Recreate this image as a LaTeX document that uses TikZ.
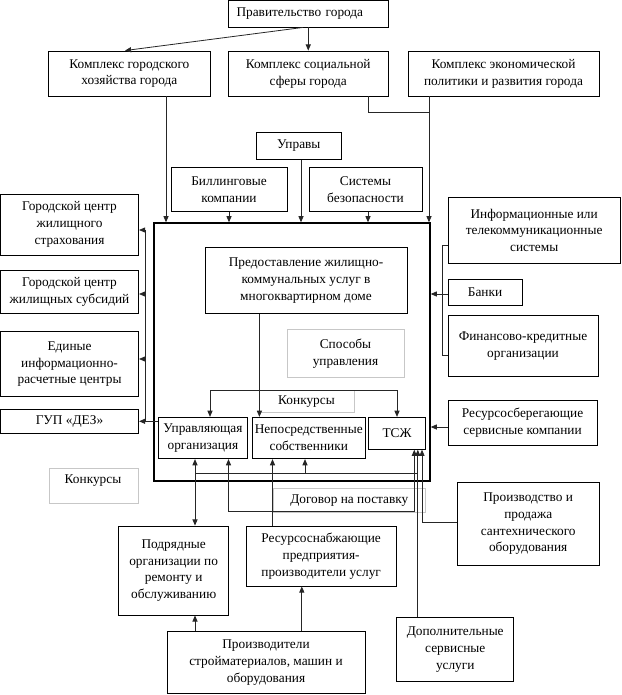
\documentclass[tikz,border=0pt]{standalone}
\usepackage{fontspec}
\setmainfont{Liberation Serif}
\usetikzlibrary{arrows.meta}
\newcommand\mybox[7]{%
  \pgfmathsetmacro\mycx{(#3+#5)/2}%
  \pgfmathsetmacro\mycy{(#4+#6)/2}%
  \pgfmathsetmacro\mywd{(#5-#3)*0.75}%
  \pgfmathsetmacro\myht{(#6-#4)*0.75}%
  \node[#1, minimum width=\mywd pt, minimum height=\myht pt] (#2) at (\mycx,\mycy) {#7};}
\tikzset{
  txt/.style={font=\fontsize{10pt}{12.6pt}\selectfont, align=center, inner sep=0pt},
  box/.style={txt, draw=black, line width=0.65pt},
  gbox/.style={txt, draw=black!22, line width=0.5pt},
  mainbox/.style={draw=black, line width=1.5pt, inner sep=0pt},
  conn/.style={draw=black!85, line width=0.6pt},
  arr/.style={conn, -{Triangle[length=4.6pt,width=3.8pt]}},
  arrb/.style={conn, {Triangle[length=4.6pt,width=3.8pt]}-{Triangle[length=4.6pt,width=3.8pt]}}
}
\begin{document}
\begin{tikzpicture}[x=0.75pt,y=-0.75pt]
\useasboundingbox (0,0) rectangle (621,695);
% gray text boxes
\mybox{gbox}{sposob}{287}{329.3}{404}{377.3}{Способы\\управления}
\mybox{gbox}{konka}{259}{390.7}{354}{412.7}{Конкурсы}
\mybox{gbox}{konkb}{49.5}{468.3}{138.6}{503.3}{}
\node[txt] (konkbt) at (93,480.7) {Конкурсы};
\mybox{gbox}{dog}{273}{488.3}{425.7}{512.7}{Договор на поставку}
% main frame
\mybox{mainbox}{main}{153.7}{223.3}{429.7}{480.7}{}
% boxes
\mybox{box, align=left, inner xsep=6pt, text width=107.6pt}{prav}{228.5}{0.5}{388}{27}{Правительство города}
\mybox{box}{gor}{48.7}{51}{210}{96}{Комплекс городского\\хозяйства города}
\mybox{box}{soc}{228.5}{51}{388}{96}{Комплекс социальной\\сферы города}
\mybox{box}{econ}{408}{51}{599}{96}{Комплекс экономической\\политики и развития города}
\mybox{box}{uprav}{256.6}{132.7}{341}{159.3}{Управы}
\mybox{box}{bill}{171}{167.3}{287}{211.7}{Биллинговые\\компании}
\mybox{box}{sist}{309}{167.3}{422}{211.7}{Системы\\безопасности}
\mybox{box}{strakh}{0.5}{194}{138.6}{255}{Городской центр\\жилищного\\страхования}
\mybox{box}{subs}{0.5}{270}{138.6}{313.3}{Городской центр\\жилищных субсидий}
\mybox{box}{erc}{0.5}{331.7}{138.6}{396.7}{Единые\\информационно-\\расчетные центры}
\mybox{box}{gup}{0.5}{409.3}{138.6}{433.3}{ГУП «ДЕЗ»}
\mybox{box}{info}{448}{197.3}{620.3}{263.3}{Информационные или\\телекоммуникационные\\системы}
\mybox{box}{banki}{448}{279.3}{522}{305}{Банки}
\mybox{box}{fin}{448}{315}{598}{376.7}{Финансово-кредитные\\организации}
\mybox{box}{resb}{448}{400.7}{597}{445}{Ресурсосберегающие\\сервисные компании}
\mybox{box}{predost}{205}{247.3}{407}{313.3}{Предоставление жилищно-\\коммунальных услуг в\\многоквартирном доме}
\mybox{box}{upr}{158.4}{417.3}{247.5}{458.7}{Управляющая\\организация}
\mybox{box}{nep}{252}{417.3}{365.5}{458.7}{Непосредственные\\собственники}
\mybox{box}{tsj}{368.3}{417.3}{425.7}{449.3}{ТСЖ}
\mybox{box}{proizv}{457.4}{482.7}{599}{565}{Производство и\\продажа\\сантехнического\\оборудования}
\mybox{box}{podr}{118.8}{526}{228.5}{615}{Подрядные\\организации по\\ремонту и\\обслуживанию}
\mybox{box}{ress}{246.3}{526}{396}{586}{Ресурсоснабжающие\\предприятия-\\производители услуг}
\mybox{box}{prstr}{167}{631.7}{365}{693.3}{Производители\\стройматериалов, машин и\\оборудования}
\mybox{box}{dop}{396.8}{617.3}{513.7}{681.7}{Дополнительные\\сервисные\\услуги}
% top connectors
\draw[arr] (prav) -- (soc);
\draw[arr] (303,0 |- prav.south) -- (125,0 |- gor.north);
\draw[arr] (166,0 |- gor.south) -- (166,0 |- main.north);
\coordinate (ej) at (429,112);
\draw[conn] (368,0 |- soc.south) |- (ej);
\draw[arr] (429,0 |- econ.south) -- (429,0 |- main.north);
\draw[arr] (uprav.south -| 301,0) -- (main.north -| 301,0);
\draw[arr] (bill.south) -- (bill.south |- main.north);
\draw[arr] (sist.south -| 368,0) -- (main.north -| 368,0);
% left bracket
\coordinate (lb) at (145,230);
\draw[arr] (gup.east -| upr.west) -- (gup.east);
\draw[conn] (gup.east -| lb) -- (lb);
\draw[arr] (lb) -- (lb -| strakh.east);
\draw[arr] (lb |- 0,294) -- (subs.east |- 0,294);
\draw[arr] (lb |- 0,359) -- (erc.east |- 0,359);
% right bracket
\coordinate (rb) at (442,245);
\draw[conn] (info.west |- rb) -- (rb) -- (rb |- 0,355) -- (fin.west |- 0,355);
\draw[arr] (banki.west |- 0,294) -- (main.east |- 0,294);
\draw[arr] (resb.west |- 0,427) -- (main.east |- 0,427);
% inside
\draw[arr] (predost.south -| 259.4,0) -- (nep.north -| 259.4,0);
\coordinate (kl) at (210,390.7);
\coordinate (kr) at (397,390.7);
\draw[arrb] (upr.north -| kl) -- (kl) -- (kr) -- (tsj.north -| kr);
% bottom network
\draw[arrb] (upr.south -| 195,0) -- (podr.north -| 195,0);
\coordinate (hj) at (195,473.3);
\coordinate (hk) at (417.8,473.3);
\draw[conn] (hj) -- (hk);
\draw[arr] (hj -| 305,0) -- (nep.south -| 305,0);
\draw[arr] (dop.north -| hk) -- (tsj.south -| hk);
\coordinate (dj) at (414.3,511.7);
\draw[arrb] (upr.south -| 228.5,0) |- (dj) -- (tsj.south -| dj);
\draw[arr] (ress.north -| 272.5,0) -- (nep.south -| 272.5,0);
\draw[arr] (proizv.west |- 0,522) -| (tsj.south -| 422,0);
\draw[arr] (prstr.north -| 195,0) -- (podr.south -| 195,0);
\draw[arr] (prstr.north -| 301.8,0) -- (ress.south -| 301.8,0);
\end{tikzpicture}
\end{document}
